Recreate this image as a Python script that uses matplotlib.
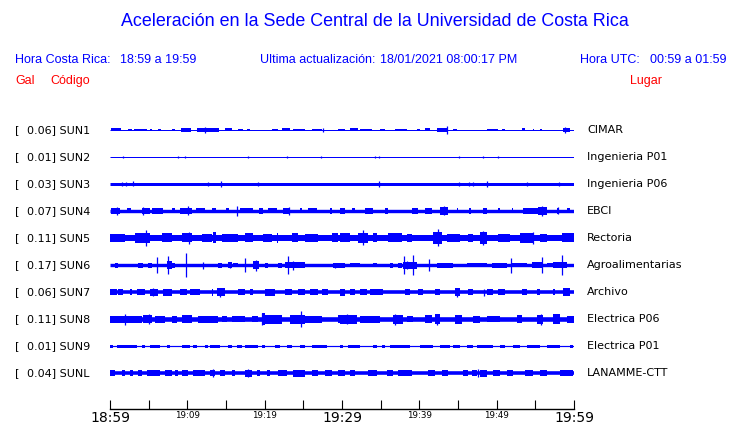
import matplotlib
matplotlib.use('Agg')
import matplotlib.pyplot as plt

W, H = 740, 423
BLUE = '#0000ff'
RED = '#ff0000'

# estaciones (de arriba hacia abajo)
CODES = ['SUN1', 'SUN2', 'SUN3', 'SUN4', 'SUN5', 'SUN6', 'SUN7', 'SUN8', 'SUN9', 'SUNL']
PEAKS = [0.06, 0.01, 0.03, 0.07, 0.11, 0.17, 0.06, 0.11, 0.01, 0.04]
PLACES = ['CIMAR', 'Ingenieria P01', 'Ingenieria P06', 'EBCI', 'Rectoria',
          'Agroalimentarias', 'Archivo', 'Electrica P06', 'Electrica P01', 'LANAMME-CTT']
# semi-ancho de la traza de fondo (px)
BASE = [0.5, 0.5, 1.5, 1.7, 3.0, 1.7, 1.8, 2.3, 0.6, 1.8]

# envolventes: (minuto inicio, minuto fin, semi-amplitud px)
SUN1_BURSTS = [(0.13, 1.42, 1.5), (2.37, 2.80, 1.2), (3.15, 4.74, 1.3), (5.17, 5.39, 1.2),
               (6.25, 6.59, 1.2), (7.97, 8.41, 1.2), (9.18, 10.47, 1.7), (11.21, 14.09, 1.7),
               (14.87, 15.82, 1.5), (16.59, 17.24, 1.2), (17.67, 18.10, 1.2), (20.9, 21.77, 1.0),
               (22.2, 23.28, 1.5), (23.71, 25.22, 1.2), (26.08, 27.37, 1.3), (29.53, 30.39, 1.3),
               (31.03, 32.11, 1.5), (32.33, 33.83, 1.3), (34.91, 35.56, 1.2), (36.85, 38.36, 1.3),
               (39.65, 40.08, 1.2), (40.73, 41.38, 1.5), (42.24, 43.53, 1.7), (44.4, 44.83, 1.2),
               (48.7, 50.21, 1.4), (50.64, 51.08, 1.2), (53.23, 53.66, 1.5), (54.65, 54.83, 1.2),
               (55.6, 55.82, 1.2), (58.62, 59.48, 2.2)]
SUN2_BURSTS = []
SUN3_BURSTS = []
SUN4_BURSTS = [(0.13, 1.29, 2.8), (2.16, 2.72, 2.5), (4.18, 5.17, 3.3), (5.39, 6.9, 2.8),
               (7.97, 8.41, 2.5), (9.05, 10.65, 3.3), (11.08, 12.28, 2.5), (13.23, 13.66, 2.5),
               (14.96, 15.39, 2.5), (16.81, 18.53, 2.5), (19.27, 19.83, 2.8), (20.47, 21.55, 2.5),
               (22.41, 23.28, 3.0), (24.57, 24.78, 2.5), (25.65, 26.72, 2.5), (28.45, 28.75, 3.3),
               (29.74, 30.39, 3.0), (31.25, 31.68, 2.5), (32.97, 33.96, 3.0), (35.56, 35.99, 2.8),
               (39.01, 39.87, 3.3), (40.73, 41.59, 2.8), (42.67, 43.75, 4.0), (44.83, 45.04, 2.5),
               (46.46, 46.64, 2.8), (48.27, 48.71, 3.3), (50.21, 50.43, 2.5), (51.94, 52.15, 2.5),
               (53.45, 55.39, 3.3), (55.39, 56.46, 4.3), (57.76, 57.97, 3.0), (59.05, 59.48, 2.5)]
SUN5_BURSTS = [(0.0, 1.94, 3.8), (3.23, 5.17, 5.0), (6.68, 7.97, 4.5), (9.35, 10.65, 4.5),
               (11.85, 13.15, 4.0), (13.36, 13.66, 5.5), (14.44, 16.59, 3.7), (17.46, 18.53, 4.5),
               (19.83, 20.9, 4.0), (21.55, 21.77, 5.0), (23.49, 24.35, 4.5), (25.22, 26.94, 3.8),
               (28.66, 29.53, 4.5), (29.74, 31.03, 4.5), (32.11, 33.4, 5.0), (34.05, 34.48, 4.5),
               (35.99, 37.71, 4.5), (38.36, 39.01, 4.0), (41.81, 42.89, 6.0), (43.53, 45.26, 4.2),
               (46.34, 46.98, 4.0), (47.84, 48.71, 6.0), (50.21, 51.72, 4.0), (53.02, 54.74, 5.0),
               (55.6, 56.46, 4.0), (58.4, 60.0, 4.5)]
SUN6_BURSTS = [(0.65, 1.08, 2.5), (3.66, 4.31, 2.5), (4.96, 5.39, 2.5), (7.33, 7.97, 4.0),
               (7.97, 8.41, 2.5), (14.01, 14.44, 2.5), (15.3, 15.73, 3.0), (15.95, 16.59, 2.3),
               (18.53, 19.27, 4.0), (20.04, 20.47, 2.5), (21.77, 22.2, 2.5), (22.63, 25.22, 3.0),
               (28.88, 30.39, 2.5), (31.03, 32.33, 2.3), (34.05, 34.48, 2.3), (36.21, 36.64, 2.5),
               (37.28, 37.71, 2.5), (37.93, 39.65, 3.5), (42.24, 44.4, 2.5), (46.12, 48.71, 2.3),
               (49.35, 51.29, 2.5), (51.94, 53.88, 2.3), (54.53, 56.03, 2.8), (56.46, 57.33, 2.3),
               (57.33, 59.05, 3.0)]
SUN7_BURSTS = [(0.0, 0.86, 3.0), (1.08, 1.72, 2.7), (2.59, 2.8, 2.7), (3.45, 4.53, 2.7),
               (5.17, 6.25, 3.5), (6.9, 7.97, 3.5), (9.05, 9.91, 3.3), (10.34, 11.64, 3.3),
               (13.15, 13.36, 3.5), (13.79, 14.87, 4.0), (16.59, 17.46, 2.8), (18.1, 18.53, 2.7),
               (20.04, 21.34, 3.5), (22.63, 23.49, 3.3), (24.35, 25.22, 2.8), (25.86, 26.94, 3.3),
               (27.37, 28.23, 3.0), (29.74, 30.39, 3.5), (31.03, 31.68, 3.0),
               (32.33, 33.19, 3.3), (33.62, 35.34, 2.8), (38.14, 38.79, 3.3), (39.87, 40.52, 3.3),
               (42.02, 42.67, 3.3), (44.61, 45.26, 4.0), (46.34, 46.98, 2.8), (48.71, 49.57, 3.3),
               (50.21, 51.08, 2.8), (53.23, 53.88, 2.8), (55.17, 55.6, 2.8), (57.33, 57.54, 3.0),
               (58.62, 59.48, 3.8)]
SUN8_BURSTS = [(0.0, 4.09, 3.5), (4.31, 5.39, 4.3), (5.82, 7.11, 3.5), (7.97, 8.62, 3.5),
               (9.27, 10.56, 3.8), (11.42, 14.01, 3.5), (14.44, 15.09, 3.3), (15.73, 17.46, 3.3),
               (18.32, 19.18, 3.3), (19.61, 20.04, 6.0), (20.04, 22.2, 4.5), (23.28, 25.22, 4.5),
               (25.22, 27.37, 3.5), (29.53, 30.39, 3.8), (29.74, 31.9, 4.5), (32.33, 34.91, 3.5),
               (36.64, 37.93, 4.5), (38.36, 39.22, 3.3), (40.73, 41.59, 3.8), (42.02, 42.67, 5.0),
               (44.61, 45.47, 4.5), (46.98, 47.84, 3.5), (48.71, 50.43, 3.3), (52.58, 53.23, 3.8),
               (55.17, 56.03, 4.5), (57.33, 58.19, 5.0), (59.05, 60.0, 3.5)]
SUN9_BURSTS = [(0.0, 0.43, 1.5), (0.86, 3.45, 1.5), (4.09, 4.53, 1.5), (5.17, 6.47, 1.5),
               (7.33, 7.76, 1.5), (9.27, 10.34, 1.5), (10.78, 11.21, 1.5), (12.28, 12.72, 1.5),
               (12.93, 14.22, 1.5), (15.3, 15.73, 1.5), (16.38, 17.03, 1.5), (17.46, 19.18, 1.5),
               (19.61, 20.04, 1.5), (21.34, 21.98, 1.5), (22.84, 23.49, 1.5), (24.57, 25.22, 1.5),
               (26.08, 28.02, 1.5), (29.74, 30.17, 1.5), (30.82, 32.33, 1.5), (34.05, 34.48, 1.5),
               (35.13, 35.56, 1.5), (36.21, 38.79, 1.5), (40.08, 41.81, 1.5), (42.67, 43.96, 1.5),
               (44.4, 45.26, 1.5), (46.12, 46.98, 1.5), (47.41, 49.57, 1.5), (50.43, 51.08, 1.5),
               (52.15, 53.02, 1.5), (53.88, 55.6, 1.5), (56.46, 58.19, 1.5), (59.48, 59.91, 1.5)]
SUNL_BURSTS = [(0.0, 0.65, 2.8), (1.51, 1.94, 2.8), (2.59, 3.02, 2.8), (3.66, 4.09, 2.8),
               (4.74, 6.47, 3.0), (7.11, 7.97, 2.8), (8.41, 8.84, 3.3), (9.27, 10.13, 2.8),
               (10.78, 12.28, 2.8), (12.93, 13.58, 3.3), (14.22, 14.87, 2.8), (15.73, 16.16, 2.8),
               (17.46, 18.32, 3.5), (18.97, 19.4, 2.8), (20.26, 20.69, 2.8), (21.77, 22.84, 3.3),
               (23.71, 25.22, 3.5), (26.08, 26.94, 2.8), (27.8, 28.66, 2.8), (29.53, 30.39, 2.8),
               (31.03, 31.68, 2.8), (33.4, 34.48, 3.0), (35.78, 36.64, 2.8), (37.28, 39.01, 2.8),
               (41.16, 42.02, 2.8), (42.89, 43.75, 2.8), (45.69, 46.34, 2.8), (46.77, 47.41, 3.3),
               (47.84, 48.71, 3.5), (49.57, 50.43, 2.8), (51.29, 52.15, 2.8), (53.66, 54.74, 2.8),
               (55.6, 56.46, 2.8), (58.19, 59.91, 2.8)]

# picos aislados: (minuto, semi-amplitud px)
SUN1_SPIKES = [(12.28, 2.7), (27.5, 2.2), (43.6, 4.3), (58.8, 3.3)]
SUN2_SPIKES = [(1.72, 1.2), (8.84, 1.2), (9.7, 1.2), (17.8, 1.2), (22.84, 1.2), (27.28, 1.2),
               (34.27, 1.2), (34.83, 1.2), (45.17, 1.2), (48.19, 1.2), (50.21, 1.2)]
SUN3_SPIKES = [(1.59, 2.3), (2.03, 2.0), (3.02, 2.5), (12.72, 2.0), (14.35, 2.8), (19.18, 2.3),
               (34.83, 2.8), (45.17, 2.3), (46.46, 2.3), (46.98, 2.3), (48.79, 2.8), (53.96, 2.3),
               (58.1, 2.0)]
SUN4_SPIKES = [(0.86, 4.0), (4.31, 4.3), (10.04, 4.5), (16.38, 5.3), (23.19, 4.3), (43.2, 4.5),
               (55.8, 5.0), (57.9, 3.5)]
SUN5_SPIKES = [(4.61, 8.0), (10.25, 6.0), (32.76, 7.5), (42.45, 8.5), (48.19, 7.0), (54.65, 6.0)]
SUN6_SPIKES = [(6.03, 7.7), (7.54, 9.0), (9.83, 12.0), (12.07, 3.5), (15.52, 3.0), (17.46, 7.0),
               (18.84, 5.5), (23.06, 9.0), (23.71, 4.5), (29.1, 2.5), (38.06, 9.3), (38.45, 4.0),
               (39.22, 10.0), (41.29, 6.0), (51.81, 7.5), (55.9, 8.0), (58.4, 9.5)]
SUN7_SPIKES = [(5.6, 4.3), (14.2, 4.5), (44.9, 4.5), (48.3, 3.5)]
SUN8_SPIKES = [(1.94, 5.5), (5.04, 5.0), (19.7, 6.0), (24.7, 8.0), (30.6, 5.2), (36.85, 5.5),
               (42.33, 5.5), (55.73, 5.5)]
SUN9_SPIKES = []
SUNL_SPIKES = [(13.36, 3.7), (17.8, 3.8), (47.65, 3.8)]

BURSTS = [SUN1_BURSTS, SUN2_BURSTS, SUN3_BURSTS, SUN4_BURSTS, SUN5_BURSTS,
          SUN6_BURSTS, SUN7_BURSTS, SUN8_BURSTS, SUN9_BURSTS, SUNL_BURSTS]
SPIKES = [SUN1_SPIKES, SUN2_SPIKES, SUN3_SPIKES, SUN4_SPIKES, SUN5_SPIKES,
          SUN6_SPIKES, SUN7_SPIKES, SUN8_SPIKES, SUN9_SPIKES, SUNL_SPIKES]

TICK_MIN = list(range(0, 61, 5))
TICK_LABELS = ['18:59', '', '19:09', '', '19:19', '', '19:29', '', '19:39', '', '19:49', '', '19:59']
BIG_LABELS = ['18:59', '19:29', '19:59']

PX = 27.0  # px por unidad de traza
X0, X1 = 110, 574
Y_TOP, Y_BOT = 116.5, 386.5

fig = plt.figure(figsize=(W / 100, H / 100), dpi=100)
ax = fig.add_axes([X0 / W, (H - Y_BOT) / H, (X1 - X0) / W, (Y_BOT - Y_TOP) / H])
ax.set_xlim(0, 60)
ax.set_ylim(len(CODES) - 0.5, -0.5)
ax.axis('off')

for i, code in enumerate(CODES):
    ax.hlines(i, 0, 60, color=BLUE, lw=max(2 * BASE[i], 1.0) * 0.72)
    for t0, t1, h in BURSTS[i]:
        ax.bar(t0, 2 * h / PX, width=t1 - t0, bottom=i - h / PX, align='edge',
               color=BLUE, lw=0)
    for t, h in SPIKES[i]:
        ax.vlines(t, i - h / PX, i + h / PX, color=BLUE, lw=0.9)

    yf = 1 - (130 + PX * i) / H
    fig.text(15 / W, yf, '[', fontsize=8, color='black', va='center', family='DejaVu Sans')
    fig.text(27 / W, yf, f'{PEAKS[i]:.2f}] {code}', fontsize=8, color='black',
             va='center', family='DejaVu Sans')
    fig.text(587 / W, yf, PLACES[i], fontsize=8, color='black', va='center',
             family='DejaVu Sans')

# eje de tiempo
axt = fig.add_axes([X0 / W, (H - 409.3) / H, (X1 - X0) / W, 9 / H])
axt.set_xlim(0, 60)
axt.patch.set_visible(False)
for s in ['top', 'left', 'right']:
    axt.spines[s].set_visible(False)
axt.spines['bottom'].set_linewidth(1.0)
axt.set_yticks([])
axt.set_xticks(TICK_MIN)
axt.set_xticklabels(TICK_LABELS, family='DejaVu Sans')
axt.tick_params(axis='x', direction='in', length=6.5, width=0.8, pad=1.5)
for lab in axt.get_xticklabels():
    lab.set_fontsize(10 if lab.get_text() in BIG_LABELS else 6.3)

# encabezado
sans = 'Liberation Sans'
fig.text(375 / W, 1 - 22 / H, 'Aceleración en la Sede Central de la Universidad de Costa Rica',
         fontsize=12.9, color=BLUE, ha='center', va='center', family=sans)
hy = 1 - 60 / H
fs = 9
fig.text(15 / W, hy, 'Hora Costa Rica:', fontsize=fs, color=BLUE, va='center', family=sans)
fig.text(120 / W, hy, '18:59 a 19:59', fontsize=fs, color=BLUE, va='center', family=sans)
fig.text(260 / W, hy, 'Ultima actualización:', fontsize=fs, color=BLUE, va='center', family=sans)
fig.text(380 / W, hy, '18/01/2021 08:00:17 PM', fontsize=fs, color=BLUE, va='center', family=sans)
fig.text(580 / W, hy, 'Hora UTC:', fontsize=fs, color=BLUE, va='center', family=sans)
fig.text(650 / W, hy, '00:59 a 01:59', fontsize=fs, color=BLUE, va='center', family=sans)
ry = 1 - 81 / H
fig.text(15 / W, ry, 'Gal', fontsize=fs, color=RED, va='center', family=sans)
fig.text(50 / W, ry, 'Código', fontsize=fs, color=RED, va='center', family=sans)
fig.text(630 / W, ry, 'Lugar', fontsize=fs, color=RED, va='center', family=sans)

fig.savefig('out.png', dpi=100)
